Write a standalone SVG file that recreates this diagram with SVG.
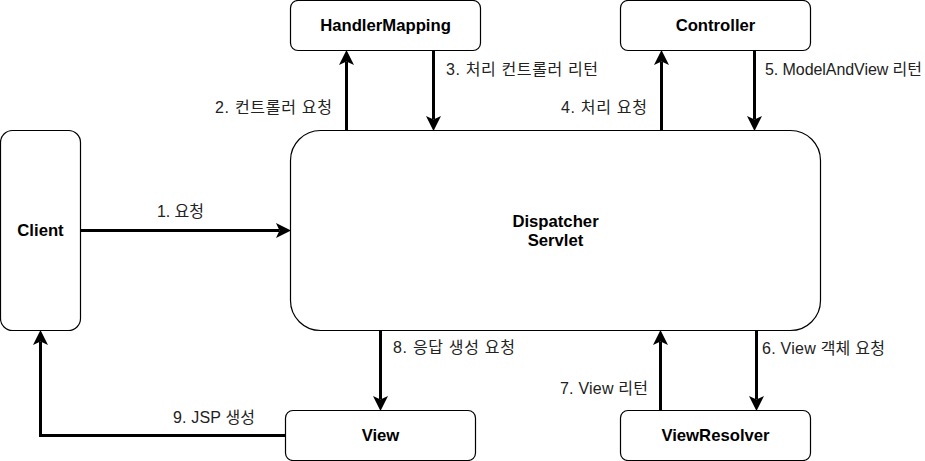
<svg xmlns="http://www.w3.org/2000/svg" width="925" height="461" viewBox="0 0 925 461">
<style>
.node{fill:#fff;stroke:#000;stroke-width:1.2}
.title{font-family:"Liberation Sans","Noto Sans CJK KR",sans-serif;font-size:16.7px;font-weight:bold;fill:#000;text-anchor:middle}
.lbl{font-family:"Liberation Sans","Noto Sans CJK KR",sans-serif;font-size:16px;fill:#222}
.edge{fill:none;stroke:#000;stroke-width:3;marker-end:url(#arr)}
</style>
<defs>
<marker id="arr" markerUnits="userSpaceOnUse" markerWidth="16" markerHeight="16" viewBox="0 0 16 16" refX="3.5" refY="8" orient="auto">
<path d="M15,8 L0,0.5 L3.5,8 L0,15.5 Z" fill="#000"/>
</marker>
</defs>
<rect width="925" height="461" fill="#fff"/>
<g id="handlermapping"><rect class="node" x="290.5" y="0.5" width="190" height="50" rx="7.5"/><text class="title" x="385.5" y="31">HandlerMapping</text></g>
<g id="controller"><rect class="node" x="620.5" y="0.5" width="190" height="50" rx="7.5"/><text class="title" x="715.5" y="31">Controller</text></g>
<g id="client"><rect class="node" x="0.5" y="130.5" width="80" height="200" rx="12"/><text class="title" x="40.5" y="236">Client</text></g>
<g id="dispatcher"><rect class="node" x="290.5" y="130.5" width="530" height="200" rx="30"/><text class="title" x="555.5" y="227">Dispatcher</text><text class="title" x="555.5" y="246">Servlet</text></g>
<g id="view"><rect class="node" x="285.5" y="410.5" width="190" height="50" rx="7.5"/><text class="title" x="380.5" y="441">View</text></g>
<g id="viewresolver"><rect class="node" x="620.5" y="410.5" width="190" height="50" rx="7.5"/><text class="title" x="715.5" y="441">ViewResolver</text></g>
<g id="connectors">
<path class="edge" d="M80.5,230.5 H279.5"/>
<path class="edge" d="M346.5,130.5 V61.5"/>
<path class="edge" d="M433.5,50.5 V119.5"/>
<path class="edge" d="M661.5,130.5 V61.5"/>
<path class="edge" d="M754.5,50.5 V119.5"/>
<path class="edge" d="M756.5,330.5 V399.5"/>
<path class="edge" d="M660.5,410.5 V341.5"/>
<path class="edge" d="M380.5,330.5 V399.5"/>
<path class="edge" d="M285.5,435.5 H40.5 V341.5"/>
</g>
<g id="labels">
<text class="lbl" x="157" y="217" textLength="47" lengthAdjust="spacing">1. 요청</text>
<text class="lbl" x="215" y="113" textLength="117" lengthAdjust="spacing">2. 컨트롤러 요청</text>
<text class="lbl" x="446" y="75" textLength="152" lengthAdjust="spacing">3. 처리 컨트롤러 리턴</text>
<text class="lbl" x="561" y="113" textLength="86" lengthAdjust="spacing">4. 처리 요청</text>
<text class="lbl" x="765" y="75" textLength="157" lengthAdjust="spacing">5. ModelAndView 리턴</text>
<text class="lbl" x="762" y="354" textLength="123" lengthAdjust="spacing">6. View 객체 요청</text>
<text class="lbl" x="560" y="394" textLength="88" lengthAdjust="spacing">7. View 리턴</text>
<text class="lbl" x="393" y="353" textLength="122" lengthAdjust="spacing">8. 응답 생성 요청</text>
<text class="lbl" x="173" y="423" textLength="82" lengthAdjust="spacing">9. JSP 생성</text>
</g>
</svg>
